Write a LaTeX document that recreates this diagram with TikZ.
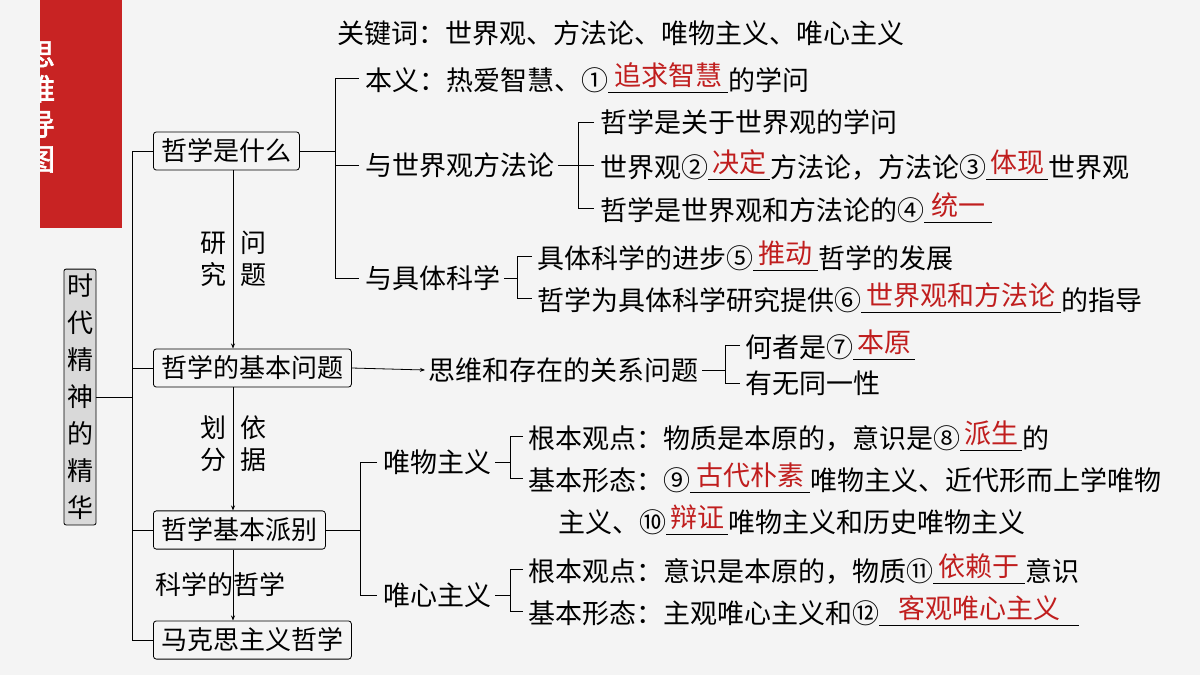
\documentclass[tikz,border=0pt]{standalone}
\usepackage{fontspec}
\setmainfont{Noto Sans CJK SC}
\newfontfamily\cjkb{Noto Sans CJK SC}[FakeBold=2]
\usetikzlibrary{arrows.meta}
\definecolor{ansred}{RGB}{192,30,30}
\definecolor{barred}{RGB}{200,35,35}
\definecolor{bg}{RGB}{244,244,244}
\newcommand\ans[2]{\underline{\raisebox{5pt}{\makebox[#1pt]{\color{ansred}#2}}}}
\tikzset{
 t/.style={anchor=west,inner sep=0pt,font=\fontsize{27}{29}\selectfont},
 box/.style={draw,rounded corners=3pt,line width=0.8pt,inner xsep=8pt,inner ysep=7pt,font=\fontsize{26}{28}\selectfont,anchor=west},
 ln/.style={line width=0.8pt},
 ar/.style={ln,-{Stealth[length=5pt,width=4pt]}}
}
\begin{document}
\begin{tikzpicture}[x=1pt,y=-1pt]
\fill[bg] (0,0) rectangle (1200,675);
\useasboundingbox (0,0) rectangle (1200,675);
\fill[barred] (40,0) rectangle (122,228);
\begin{scope}
\clip (40,0) rectangle (122,228);
\node[text=white,font=\cjkb\fontsize{30}{35}\selectfont,align=center,inner sep=0] (title) at (40,107) {思\\维\\导\\图};
\end{scope}
\node[draw,fill=black!15,rounded corners=2pt,line width=0.8pt,inner xsep=3pt,inner ysep=5pt,align=center,font=\fontsize{26}{37}\selectfont] (root) at (80,397) {时\\代\\精\\神\\的\\精\\华};
\coordinate (sp) at (132,0);
\node[box] (b1) at (153,151) {哲学是什么};
\node[box] (b2) at (153,368) {哲学的基本问题};
\node[box] (b3) at (153,530) {哲学基本派别};
\node[box] (b4) at (153,640) {马克思主义哲学};
\draw[ln] (root.east) -- (root.east -| sp);
\draw[ln] (b1.west) -- (b1.west -| sp) -- (b4.west -| sp) -- (b4.west);
\draw[ln] (b2.west) -- (b2.west -| sp);
\draw[ln] (b3.west) -- (b3.west -| sp);
\coordinate (vx) at (233,0);
\draw[ar] (b1.south -| vx) -- (b2.north -| vx);
\draw[ar] (b2.south -| vx) -- (b3.north -| vx);
\draw[ar] (b3.south -| vx) -- (b4.north -| vx);
\node[font=\fontsize{26}{32}\selectfont,align=center,inner sep=0] (l1) at (213,259) {研\\究};
\node[font=\fontsize{26}{32}\selectfont,align=center,inner sep=0] (l2) at (253,259) {问\\题};
\node[font=\fontsize{26}{32}\selectfont,align=center,inner sep=0] (l3) at (213,444) {划\\分};
\node[font=\fontsize{26}{32}\selectfont,align=center,inner sep=0] (l4) at (253,444) {依\\据};
\node[font=\fontsize{26}{28}\selectfont,inner sep=0] (l5) at (220,585) {科学的哲学};
\node[t] (kw) at (337,33) {关键词：世界观、方法论、唯物主义、唯心主义};
\node[t] (a1) at (365,78) {本义：热爱智慧、①\ans{120}{追求智慧}的学问};
\node[t] (a2) at (365,165) {与世界观方法论};
\node[t] (a3) at (365,278) {与具体科学};
\coordinate (k1) at (335,0);
\draw[ln] ([xshift=-6]a1.west) -- (a1.west -| k1) -- (a3.west -| k1) -- ([xshift=-6]a3.west);
\draw[ln] ([xshift=-6]a2.west) -- (a2.west -| k1);
\draw[ln] (b1.east) -- (b1.east -| k1);
\node[t] (c1) at (600,122) {哲学是关于世界观的学问};
\node[t] (c2) at (600,165) {世界观②\ans{62}{决定}方法论，方法论③\ans{62}{体现}世界观};
\node[t] (c3) at (600,208) {哲学是世界观和方法论的④\ans{68}{统一}};
\coordinate (k2) at (578,0);
\draw[ln] ([xshift=-6]c1.west) -- (c1.west -| k2) -- (c3.west -| k2) -- ([xshift=-6]c3.west);
\draw[ln] ([xshift=-6]c2.west) -- ([xshift=4]a2.east);
\node[t] (d1) at (537,256) {具体科学的进步⑤\ans{65}{推动}哲学的发展};
\node[t] (d2) at (537,298) {哲学为具体科学研究提供⑥\ans{200}{世界观和方法论}的指导};
\coordinate (k3) at (517,0);
\draw[ln] ([xshift=-5]d1.west) -- (d1.west -| k3) -- (d2.west -| k3) -- ([xshift=-5]d2.west);
\draw[ln] ([xshift=4]a3.east) -- (a3.east -| k3);
\node[t] (e0) at (428,370) {思维和存在的关系问题};
\draw[ar] (b2.east) -- ([xshift=-3]e0.west);
\node[t] (e1) at (745,345) {何者是⑦\ans{62}{本原}};
\node[t] (e2) at (745,383) {有无同一性};
\coordinate (k4) at (725,0);
\draw[ln] ([xshift=-5]e1.west) -- (e1.west -| k4) -- (e2.west -| k4) -- ([xshift=-5]e2.west);
\draw[ln] ([xshift=4]e0.east) -- (e0.east -| k4);
\node[t] (f1) at (383,462) {唯物主义};
\node[t] (f2) at (383,595) {唯心主义};
\coordinate (k5) at (360,0);
\draw[ln] ([xshift=-6]f1.west) -- (f1.west -| k5) -- (f2.west -| k5) -- ([xshift=-6]f2.west);
\draw[ln] (b3.east) -- (b3.east -| k5);
\coordinate (k6) at (510,0);
\node[t] (g1) at (528,436) {根本观点：物质是本原的，意识是⑧\ans{62}{派生}的};
\node[t] (g2) at (528,478) {基本形态：⑨\ans{120}{古代朴素}唯物主义、近代形而上学唯物};
\node[t] (g3) at (558,520) {主义、⑩\ans{62}{辩证}唯物主义和历史唯物主义};
\draw[ln] ([xshift=-5]g1.west) -- (g1.west -| k6) -- (g2.west -| k6) -- ([xshift=-5]g2.west);
\draw[ln] ([xshift=4]f1.east) -- (f1.east -| k6);
\node[t] (h1) at (528,569) {根本观点：意识是本原的，物质⑪\ans{92}{依赖于}意识};
\node[t] (h2) at (528,611) {基本形态：主观唯心主义和⑫\ans{200}{客观唯心主义}};
\draw[ln] ([xshift=-5]h1.west) -- (h1.west -| k6) -- (h2.west -| k6) -- ([xshift=-5]h2.west);
\draw[ln] ([xshift=4]f2.east) -- (f2.east -| k6);
\end{tikzpicture}
\end{document}
